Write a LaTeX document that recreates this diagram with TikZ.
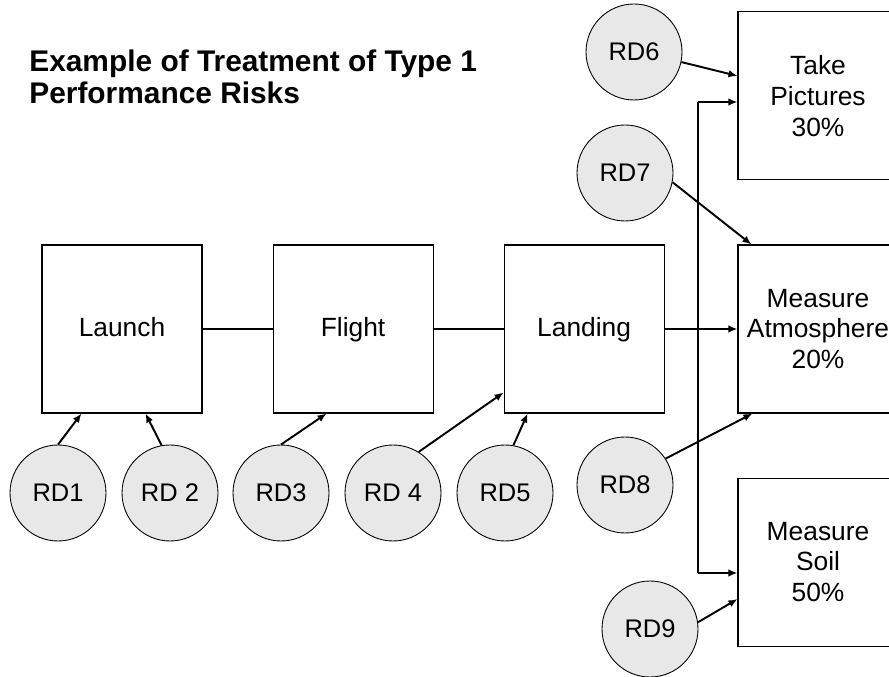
\documentclass[tikz,border=0pt]{standalone}
\usepackage{fontspec}
\setmainfont{Liberation Sans}
\usetikzlibrary{arrows.meta,calc,positioning}
\definecolor{riskgray}{HTML}{E8E8E8}

\begin{document}
\begin{tikzpicture}[x=0.2mm, y=-0.2mm,
        box/.style={draw, line width=0.6pt, minimum width=32mm, minimum height=33.6mm,
            align=center, font=\fontsize{15}{17.5}\selectfont},
        phase/.style={box, text height=11pt, text depth=3pt},
        risk/.style={circle, draw, line width=0.5pt, fill=riskgray, minimum size=19.2mm,
            inner sep=0pt, font=\fontsize{14.5}{17}\selectfont},
        arr/.style={-{Latex[length=1.8mm,width=1.5mm]}, line width=1.1pt},
        link/.style={line width=0.9pt}]
        % page frame
        \useasboundingbox (0,0) rectangle (889,677);

        % title
        \node[anchor=north west, inner sep=0pt, align=left,
            font=\fontsize{17}{18}\selectfont\bfseries]
            (title) at (29,50) {Example of Treatment of Type 1\\Performance Risks};

        % mission phases
        \node[phase] (launch) at (122,329) {Launch};
        \node[phase, right=14mm of launch] (flight) {Flight};
        \node[phase, right=14mm of flight] (landing) {Landing};

        % objectives
        \node[box] (atmos) at (818,329) {Measure\\Atmosphere\\20\%};
        \node[box, above=12.8mm of atmos] (pics) {Take\\Pictures\\30\%};
        \node[box, below=12.8mm of atmos] (soil) {Measure\\Soil\\50\%};

        % risk drivers
        \node[risk] (rd1) at (58,493) {RD1};
        \node[risk] (rd2) at (170,493) {RD 2};
        \node[risk] (rd3) at (281,493) {RD3};
        \node[risk] (rd4) at (393,493) {RD 4};
        \node[risk] (rd5) at (505,493) {RD5};
        \node[risk] (rd6) at (634,52) {RD6};
        \node[risk] (rd7) at (625,173) {RD7};
        \node[risk] (rd8) at (625,485) {RD8};
        \node[risk] (rd9) at (650,629) {RD9};

        % phase chain
        \draw[link] (launch) -- (flight);
        \draw[link] (flight) -- (landing);
        \draw[arr] (landing) -- (atmos);

        % split to the other objectives
        \coordinate (bus_top) at (698,102);
        \coordinate (bus_bot) at (698,573);
        \draw[line width=0.6pt] (bus_top) -- (bus_bot);
        \draw[arr] (bus_top) -- (pics.west |- bus_top);
        \draw[arr] (bus_bot) -- (soil.west |- bus_bot);

        % risk links into phases
        \draw[arr] (rd1.90) -- ($(launch.south west)+(40,0)$);
        \draw[arr] (rd2.100) -- ($(launch.south west)+(104,0)$);
        \draw[arr] (rd3.90) -- ($(flight.south west)+(54,0)$);
        \draw[arr] (rd4.58) -- ($(landing.south west)+(0,-21)$);
        \draw[arr] (rd5.80) -- ($(landing.south west)+(24,0)$);

        % risk links into objectives
        \draw[arr] (rd6.-12) -- ($(pics.west)+(0,-20)$);
        \draw[arr] (rd7.-11) -- ($(atmos.north west)+(14,0)$);
        \draw[arr] (rd8.33) -- ($(atmos.south west)+(15,0)$);
        \draw[arr] (rd9.8) -- ($(soil.west)+(0,37)$);
    \end{tikzpicture}
\end{document}
